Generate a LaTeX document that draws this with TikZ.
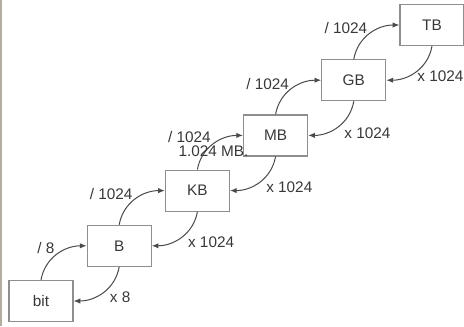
\documentclass[tikz,border=0pt]{standalone}
\usepackage{fontspec}
\setmainfont{Liberation Sans}
\usetikzlibrary{positioning,calc,arrows.meta}
\definecolor{boxgray}{HTML}{8E8E8E}
\definecolor{arrowgray}{HTML}{4A4A4A}
\definecolor{textgray}{HTML}{383838}
\definecolor{edgegray}{HTML}{B3ADA2}

\begin{document}
\begin{tikzpicture}[x=0.75pt,y=0.75pt,node distance=9.75pt and 9.75pt,
  every node/.style={font=\fontsize{11.5}{13}\selectfont,text=textgray,inner sep=1pt},
  unitbox/.style={draw=boxgray,line width=0.9pt,minimum width=48pt,minimum height=30.75pt},
  conv/.style={-{Latex[length=5pt,width=4pt]},arrowgray,line width=0.75pt}]
\useasboundingbox (0,0) rectangle (464,326);
\draw[edgegray,line width=1.6pt] (1.2,0) -- (1.2,326);
% units, climbing to the upper right
\node[unitbox] (bit) at (41,25) {bit};
\node[unitbox,above right=of bit] (B) {B};
\node[unitbox,above right=of B] (KB) {KB};
\node[unitbox,above right=of KB] (MB) {MB};
\node[unitbox,above right=of MB] (GB) {GB};
\node[unitbox,above right=of GB] (TB) {TB};
\foreach \lo/\hi in {bit/B,B/KB,KB/MB,MB/GB,GB/TB}{
  \draw[conv] (\lo.north) to[out=80,in=180] (\hi.west);
  \draw[conv] (\hi.south) to[out=-100,in=0] (\lo.east);
}
% factors
\node[left=23pt of B.west,yshift=-2pt] (div8) {/ 8};
\node[left=23pt of KB.west,yshift=-2.5pt] (divkb) {/ 1024};
\node[left=23pt of MB.west,yshift=-1pt] (divmb) {/ 1024};
\node[left=23pt of GB.west,yshift=-2.5pt] (divgb) {/ 1024};
\node[left=23pt of TB.west,yshift=-2pt] (divtb) {/ 1024};
\node[right=26pt of bit.east,yshift=3pt] (mul8) {x 8};
\node[right=26pt of B.east,yshift=3pt] (mulb) {x 1024};
\node[right=26pt of KB.east,yshift=2.5pt] (mulkb) {x 1024};
\node[right=26pt of MB.east,yshift=2pt] (mulmb) {x 1024};
\node[right=22pt of GB.east,yshift=3pt] (mulgb) {x 1024};
\node[anchor=east] (mbnote) at ($(MB.west)+(7,-16)$) {1.024 MB.};
\end{tikzpicture}
\end{document}
